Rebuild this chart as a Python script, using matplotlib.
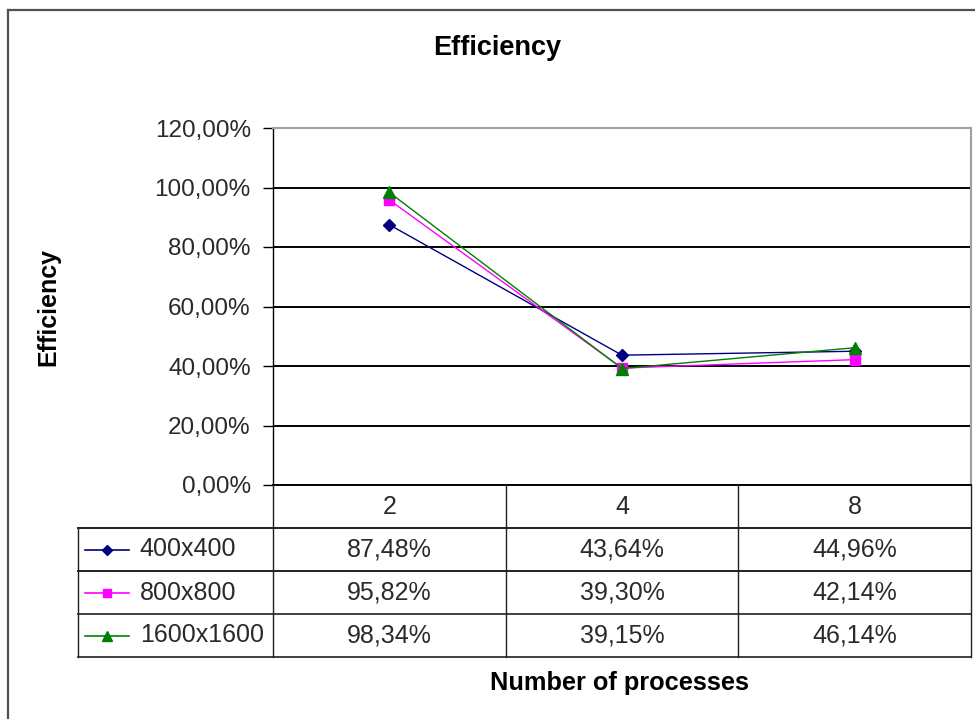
import matplotlib
matplotlib.use("Agg")
import matplotlib.pyplot as plt
from matplotlib.lines import Line2D

plt.rcParams['font.family'] = ['Liberation Sans', 'DejaVu Sans']

# process counts and efficiency (%) per grid size
procs = ['2', '4', '8']
series = ['400x400', '800x800', '1600x1600']
eff_400 = [87.48, 43.64, 44.96]
eff_800 = [95.82, 39.30, 42.14]
eff_1600 = [98.34, 39.15, 46.14]
yticks = [0, 20, 40, 60, 80, 100, 120]

colors = ['#000080', '#FF00FF', '#008000']
markers = ['D', 's', '^']
msizes = [6.5, 7, 8]
values = [eff_400, eff_800, eff_1600]

W, H = 975, 719
fig = plt.figure(figsize=(W / 100, H / 100), dpi=100)

def fx(px):
    return px / W

def fy(py):
    return 1 - py / H

# outer chart frame (left and top edges)
fig.add_artist(Line2D([fx(8), fx(8)], [fy(10), fy(719)], color='#505050', lw=1.6))
fig.add_artist(Line2D([fx(8), fx(975)], [fy(10), fy(10)], color='#505050', lw=1.6))

left, right, top, bottom = 273, 971, 128, 485
ax = fig.add_axes([fx(left), fy(bottom), fx(right - left), (bottom - top) / H])

x = [i + 0.5 for i in range(len(procs))]
for vals, c, m, ms in zip(values, colors, markers, msizes):
    ax.plot(x, vals, color=c, lw=1.0, marker=m, markersize=ms,
            markerfacecolor=c, markeredgecolor=c)

ax.set_xlim(0, 3)
ax.set_ylim(0, 120)
ax.set_yticks(yticks)
ax.set_yticklabels([f"{t:.2f}%".replace('.', ',') for t in yticks], fontsize=17.5, color='#2a2a2a')
ax.set_xticks([])
for t in yticks[1:-1]:
    ax.axhline(t, color='black', lw=1.4, zorder=0)
ax.tick_params(axis='y', direction='out', length=7, width=1, pad=9)
ax.spines['left'].set_color('black')
ax.spines['left'].set_linewidth(1.0)
ax.spines['bottom'].set_color('black')
ax.spines['bottom'].set_linewidth(1.4)
for s in ['top', 'right']:
    ax.spines[s].set_color('#a0a0a0')
    ax.spines[s].set_linewidth(1.5)

ax.set_ylabel('Efficiency', fontsize=18, fontweight='bold', labelpad=0)
ax.yaxis.set_label_coords((60 - left) / (right - left), 0.5)
fig.text(fx(497), fy(48), 'Efficiency', fontsize=19.5, fontweight='bold',
         ha='center', va='center')

# data table under the plot, sharing the category columns
tleft, tbottom = 78, 657
unit = (right - left) / 3
tab = fig.add_axes([fx(tleft), fy(tbottom), fx(right - tleft), (tbottom - bottom) / H])
x0 = -(left - tleft) / unit
tab.set_xlim(x0, 3)
tab.set_ylim(4, 0)
tab.axis('off')

lc = '#202020'
for j in range(4):
    tab.plot([j, j], [0, 4], color=lc, lw=1.0, clip_on=False)
tab.plot([x0, x0], [1, 4], color=lc, lw=1.0, clip_on=False)
for r in range(1, 5):
    tab.plot([x0, 3], [r, r], color=lc, lw=1.4 if r < 3 else 1.2, clip_on=False)

fs = 18
for i, p in enumerate(procs):
    tab.text(i + 0.5, 0.5, p, ha='center', va='center', fontsize=fs, color='#2a2a2a')

for r, (name, vals, c, m, ms) in enumerate(zip(series, values, colors, markers, msizes)):
    yy = r + 1.5
    tab.plot([x0 + 0.03, x0 + 0.22], [yy, yy], color=c, lw=1.2)
    tab.plot([x0 + 0.125], [yy], marker=m, color=c, markersize=ms - 1)
    tab.text(x0 + 0.265, yy, name, ha='left', va='center', fontsize=fs, color='#2a2a2a')
    for i, v in enumerate(vals):
        tab.text(i + 0.5, yy, f"{v:.2f}%".replace('.', ','), ha='center', va='center',
                 fontsize=fs, color='#2a2a2a')

fig.text(fx(620), fy(683), 'Number of processes', fontsize=18.3, fontweight='bold',
         ha='center', va='center')

fig.savefig('out.png', dpi=100)
